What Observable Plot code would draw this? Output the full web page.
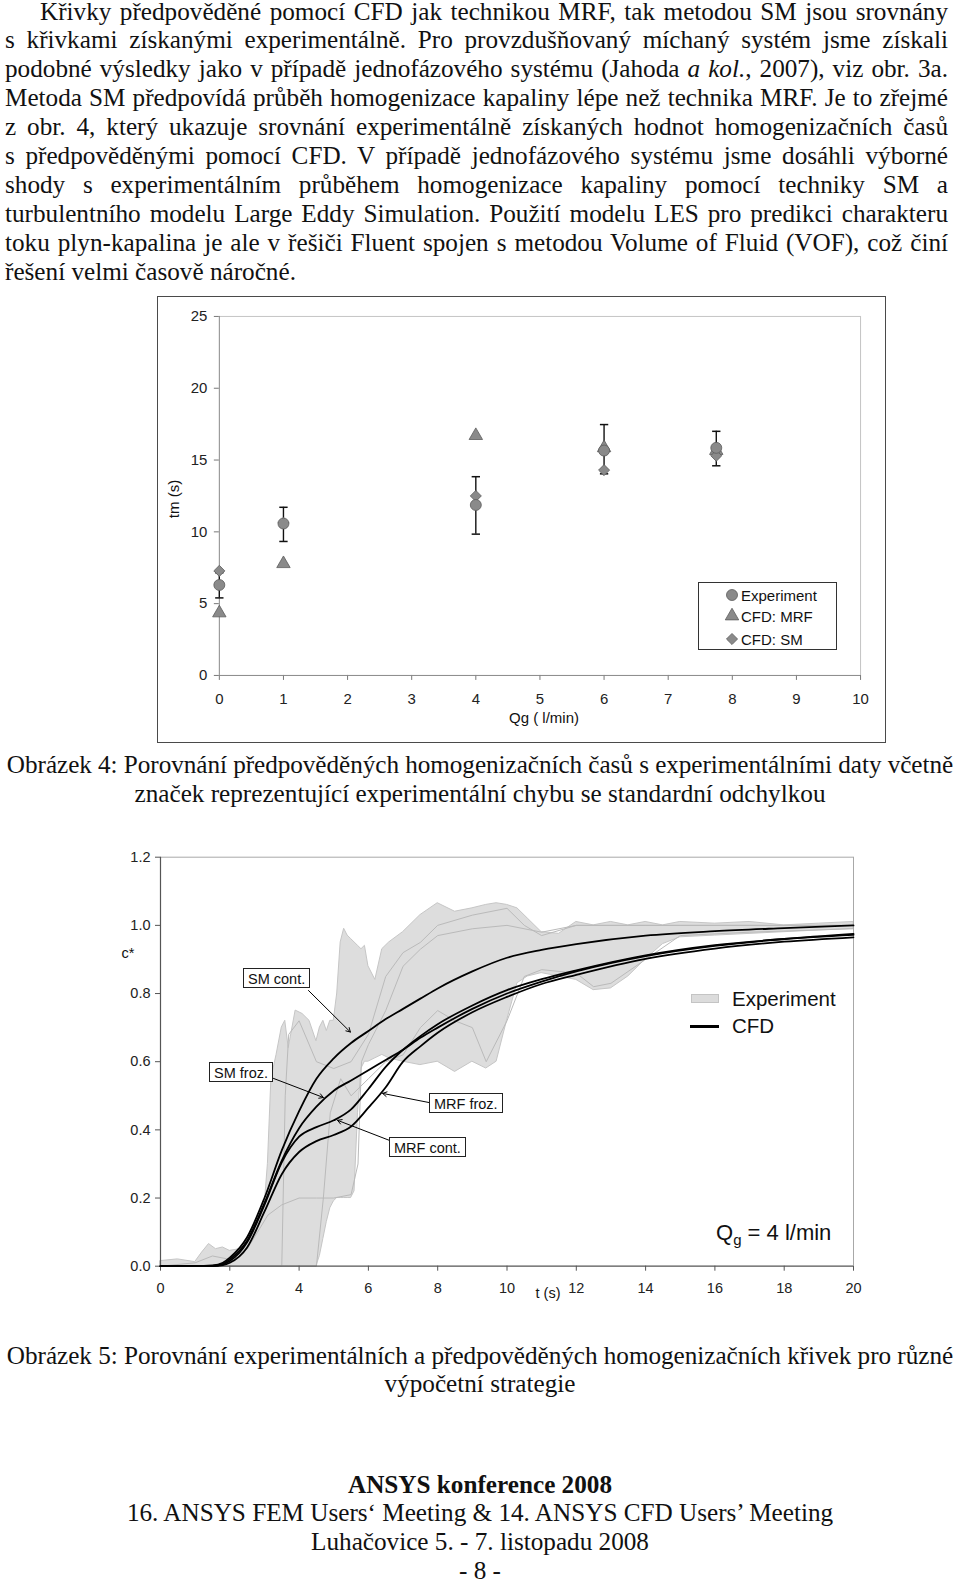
<!DOCTYPE html>
<html><head><meta charset="utf-8">
<script src="https://cdn.jsdelivr.net/npm/d3@7"></script>
<script src="https://cdn.jsdelivr.net/npm/@observablehq/plot@0.6"></script>
<style>
html,body{margin:0;padding:0;background:#fff}
body{width:960px;height:1581px;position:relative;overflow:hidden;font-family:"Liberation Serif","Times New Roman",serif;color:#111}
.para{position:absolute;left:5px;width:943px;top:-2.5px;font-size:25.2px;line-height:28.9px}
.para .ln{text-align:justify;text-align-last:justify;white-space:normal}
.para .ln.last{text-align-last:left}
.cap{position:absolute;left:0;width:960px;text-align:center;font-size:25.2px}
.sans{font-family:"Liberation Sans",Arial,sans-serif}
.box{position:absolute;font-family:"Liberation Sans",Arial,sans-serif;font-size:14.5px;border:1px solid #222;background:#fff;height:20px;line-height:20px;padding:0 4px;box-sizing:border-box;white-space:nowrap}
</style>
</head><body>
<div class="para" id="para">
<div class="ln" style="text-indent:35px">Křivky předpověděné pomocí CFD jak technikou MRF, tak metodou SM jsou srovnány</div>
<div class="ln">s křivkami získanými experimentálně. Pro provzdušňovaný míchaný systém jsme získali</div>
<div class="ln">podobné výsledky jako v případě jednofázového systému (Jahoda <i>a kol.</i>, 2007), viz obr. 3a.</div>
<div class="ln">Metoda SM předpovídá průběh homogenizace kapaliny lépe než technika MRF. Je to zřejmé</div>
<div class="ln">z obr. 4, který ukazuje srovnání experimentálně získaných hodnot homogenizačních časů</div>
<div class="ln">s předpověděnými pomocí CFD. V případě jednofázového systému jsme dosáhli výborné</div>
<div class="ln">shody s experimentálním průběhem homogenizace kapaliny pomocí techniky SM a</div>
<div class="ln">turbulentního modelu Large Eddy Simulation. Použití modelu LES pro predikci charakteru</div>
<div class="ln">toku plyn-kapalina je ale v řešiči Fluent spojen s metodou Volume of Fluid (VOF), což činí</div>
<div class="ln last">řešení velmi časově náročné.</div>
</div>

<div class="cap fit" style="top:749.5px;line-height:29.3px"><div>Obrázek 4: Porovnání předpověděných homogenizačních časů s experimentálními daty včetně</div><div>značek reprezentující experimentální chybu se standardní odchylkou</div></div>
<div class="cap fit" style="top:1342.3px;line-height:28px"><div>Obrázek 5: Porovnání experimentálních a předpověděných homogenizačních křivek pro různé</div><div>výpočetní strategie</div></div>
<div class="cap" style="top:1470.6px;line-height:28.7px"><b>ANSYS konference 2008</b><br>16. ANSYS FEM Users‘ Meeting &amp; 14. ANSYS CFD Users’ Meeting<br>Luhačovice 5. - 7. listopadu 2008<br>- 8 -</div>

<script>
// ---------- Figure 4 data ----------
const qg      = [0, 1, 4, 6, 7.75];
const tmExp   = [6.3, 10.58, 11.87, 15.66, 15.85];
const tmErrLo = [5.4, 9.33, 9.84, 14.04, 14.6];
const tmErrHi = [7.15, 11.71, 13.84, 17.47, 17.0];
const tmMRF   = [4.35, 7.78, 16.7, 15.85, 15.66];
const tmSM    = [7.28, 10.62, 12.5, 14.3, 15.3];
const qTicks  = [0,1,2,3,4,5,6,7,8,9,10];
const tmTicks = [0,5,10,15,20,25];
const legend1 = ["Experiment", "CFD: MRF", "CFD: SM"];

// ---------- Figure 5 data ----------
const cfdT    = [0,1,1.5,1.8,2,2.5,3,3.5,4,4.5,5,5.5,6,6.5,7,7.5,8,9,10,11,12,14,16,18,20];
const smCont  = [0,0,0.002,0.01,0.025,0.085,0.2,0.34,0.455,0.55,0.61,0.655,0.69,0.725,0.755,0.785,0.815,0.865,0.905,0.928,0.945,0.97,0.983,0.992,1.0];
const smFroz  = [0,0,0.001,0.007,0.02,0.075,0.185,0.31,0.405,0.468,0.515,0.545,0.575,0.605,0.635,0.67,0.70,0.755,0.80,0.835,0.865,0.91,0.94,0.96,0.975];
const mrfCont = [0,0,0.001,0.005,0.015,0.07,0.18,0.305,0.38,0.408,0.428,0.46,0.52,0.585,0.635,0.675,0.71,0.765,0.81,0.842,0.868,0.912,0.942,0.96,0.972];
const mrfFroz = [0,0,0,0.003,0.01,0.055,0.16,0.27,0.335,0.367,0.385,0.41,0.465,0.525,0.60,0.645,0.685,0.745,0.79,0.828,0.855,0.902,0.932,0.952,0.965];

const expT  = [0,0.5,1,1.2,1.4,1.6,1.8,2,2.3,2.6,3,3.1,3.2,3.35,3.5,3.6,3.7,3.9,4.1,4.3,4.5,4.6,4.7,4.8,4.9,5.0,5.1,5.2,5.3,5.4,5.5,5.6,5.7,5.8,5.9,6.0,6.2,6.4,6.6,7,7.5,8,8.5,9,9.4,9.7,10,10.3,10.6,11,11.5,12,12.5,13,13.5,14,14.5,15,16,17,18,19,20];
const expHi = [0.015,0.02,0.012,0.04,0.065,0.05,0.055,0.045,0.05,0.1,0.17,0.3,0.55,0.62,0.7,0.72,0.64,0.75,0.74,0.72,0.66,0.7,0.72,0.69,0.72,0.72,0.8,0.95,0.99,0.97,0.96,0.95,0.94,0.93,0.94,0.88,0.84,0.93,0.95,0.98,1.03,1.065,1.04,1.05,1.06,1.065,1.06,1.05,1.02,0.98,0.975,1.01,1.0,1.01,1.0,1.01,1.0,1.01,1.005,1.01,1.0,1.005,1.01];
const expLo = [0,0,0,0,0,0,0,0,0,0,0,0,0,0,0,0,0,0,0,0,0,0.03,0.08,0.13,0.17,0.19,0.2,0.2,0.2,0.2,0.2,0.22,0.45,0.58,0.6,0.6,0.61,0.62,0.61,0.6,0.59,0.6,0.57,0.6,0.58,0.6,0.72,0.83,0.85,0.86,0.85,0.84,0.81,0.815,0.85,0.9,0.945,0.965,0.97,0.975,0.98,0.985,0.99];

const runAT = [0,1,1.5,2,2.5,2.8,3.1,3.5,4,4.5,5,5.5,5.7,5.8,6,6.5,7,7.5,8,9,10,11,12,14,17,20];
const runAC = [0,0.01,0.03,0.02,0.05,0.1,0.15,0.18,0.2,0.2,0.2,0.21,0.3,0.6,0.65,0.75,0.88,0.93,0.97,0.99,1.0,0.98,1.0,1.0,1.0,1.0];
const runBT = [0,3.5,3.6,3.7,4,4.5,5,5.5,6,6.5,7,7.5,8,9,10,10.5,11,12,15,20];
const runBC = [0,0,0.5,0.68,0.72,0.6,0.58,0.6,0.68,0.85,0.92,0.95,1.0,1.03,1.05,1.0,0.97,1.0,1.0,1.0];
const runCT = [0,4.5,4.7,4.9,5.2,5.5,6,6.5,7,7.5,8,8.5,9,9.4,10,10.5,11,12,12.5,13,14,15,17,20];
const runCC = [0,0,0.2,0.45,0.55,0.5,0.55,0.6,0.62,0.7,0.75,0.72,0.7,0.6,0.72,0.85,0.87,0.86,0.82,0.83,0.9,0.97,0.98,0.99];

const tTicks = [0,2,4,6,8,10,12,14,16,18,20];
const cTicks = [0,0.2,0.4,0.6,0.8,1.0,1.2];

// annotation labels: arrow start (t0,c0) and tip (t1,c1)
const annLabels = ["SM cont.", "SM froz.", "MRF froz.", "MRF cont."];
const annT0 = [4.27, 3.26, 7.76, 6.61];
const annC0 = [0.809, 0.551, 0.480, 0.369];
const annT1 = [5.48, 4.70, 6.41, 5.11];
const annC1 = [0.687, 0.495, 0.507, 0.428];

// ---------- fit text lines (avoid unwanted wrapping) ----------
function fitLines(nodes, avail, font) {
  const probe = document.createElement("span");
  probe.style.cssText = "position:absolute;visibility:hidden;white-space:nowrap;font:" + font;
  document.body.appendChild(probe);
  nodes.forEach((ln) => {
    probe.innerHTML = ln.innerHTML;
    const a = avail - (ln.style.textIndent ? parseFloat(ln.style.textIndent) : 0) - 2;
    const w = probe.getBoundingClientRect().width;
    if (w > a) {
      const n = ln.textContent.length;
      ln.style.letterSpacing = (-(w - a) / n - 0.02) + "px";
    }
  });
  probe.remove();
}
fitLines(document.querySelectorAll("#para .ln"), 943, "25.2px 'Liberation Serif','Times New Roman',serif");
fitLines(document.querySelectorAll(".cap.fit > div"), 950, "25.2px 'Liberation Serif','Times New Roman',serif");

function put(el, left, top) {
  el.style.position = "absolute";
  el.style.left = left + "px";
  el.style.top = top + "px";
  document.body.appendChild(el);
  return el;
}
function label(text, cx, cy, size, rotate) {
  const d = document.createElement("div");
  d.className = "sans";
  d.textContent = text;
  d.style.cssText = `position:absolute;left:${cx}px;top:${cy}px;font-size:${size}px;line-height:1;white-space:nowrap;color:#111;transform:translate(-50%,-50%)${rotate ? " rotate(-90deg)" : ""}`;
  document.body.appendChild(d);
}

// ---------- Figure 4 ----------
const rows1 = qg.map((q, i) => ({q, exp: tmExp[i], lo: tmErrLo[i], hi: tmErrHi[i], mrf: tmMRF[i], sm: tmSM[i]}));
const sty4 = {fontFamily: "'Liberation Sans', Arial, sans-serif", fontSize: "15px", color: "#222", background: "transparent", overflow: "visible"};
const sty5 = {fontFamily: "'Liberation Sans', Arial, sans-serif", fontSize: "14.5px", color: "#222", background: "transparent", overflow: "visible"};
const mfill = "#8a8a8a", mstroke = "#5c5c5c";

const fig4 = Plot.plot({
  width: 729, height: 447,
  marginLeft: 63, marginRight: 23, marginTop: 21, marginBottom: 66,
  x: {domain: [0, 10]},
  y: {domain: [0, 25]},
  style: sty4,
  marks: [
    Plot.ruleY([25], {stroke: "#c4c4c4"}),
    Plot.ruleX([10], {stroke: "#c4c4c4"}),
    Plot.axisX({ticks: qTicks, tickSize: 5, tickPadding: 13, stroke: "#777", label: null}),
    Plot.axisY({ticks: tmTicks, tickSize: 5, tickPadding: 7, stroke: "#777", label: null}),
    Plot.ruleY([0], {stroke: "#888"}),
    Plot.ruleX([0], {stroke: "#888"}),
    Plot.ruleX(rows1, {x: "q", y1: "lo", y2: "hi", stroke: "#111", strokeWidth: 1.4}),
    Plot.link(rows1, {x1: d => d.q - 0.065, x2: d => d.q + 0.065, y1: "lo", y2: "lo", stroke: "#111", strokeWidth: 1.5}),
    Plot.link(rows1, {x1: d => d.q - 0.065, x2: d => d.q + 0.065, y1: "hi", y2: "hi", stroke: "#111", strokeWidth: 1.5}),
    Plot.dot(rows1, {x: "q", y: "mrf", symbol: "triangle", r: 5, fill: mfill, stroke: mstroke, strokeWidth: 0.8}),
    Plot.dot(rows1, {x: "q", y: "sm", symbol: "diamond2", r: 5, fill: mfill, stroke: mstroke, strokeWidth: 0.8}),
    Plot.dot(rows1, {x: "q", y: "exp", symbol: "circle", r: 5.5, fill: mfill, stroke: mstroke, strokeWidth: 0.8})
  ]
});
const wrap4 = document.createElement("div");
wrap4.style.cssText = "width:729px;height:447px;box-sizing:border-box;border:1.6px solid #4a4a4a";
put(wrap4, 157, 296);
fig4.style.position = "absolute"; fig4.style.left = "-1.6px"; fig4.style.top = "-1.6px";
wrap4.appendChild(fig4);
label("Qg ( l/min)", 544, 717, 15);
label("tm (s)", 172.5, 499, 15, true);

// legend fig 4
const leg = document.createElement("div");
leg.style.cssText = "width:139px;height:68px;box-sizing:border-box;border:1.2px solid #333;background:#fff";
put(leg, 698, 582);
const legSym = [d3.symbolCircle, d3.symbolTriangle, d3.symbolDiamond2];
const legR = [5.5, 5, 5];
const legY = [12, 33, 56];
legend1.forEach((name, i) => {
  const s = document.createElementNS("http://www.w3.org/2000/svg", "svg");
  s.setAttribute("width", 20); s.setAttribute("height", 20);
  s.style.cssText = `position:absolute;left:${32.7 - 10}px;top:${legY[i] - 10}px`;
  const p = document.createElementNS("http://www.w3.org/2000/svg", "path");
  p.setAttribute("d", d3.symbol(legSym[i], Math.PI * legR[i] * legR[i])());
  p.setAttribute("transform", "translate(10,10)");
  p.setAttribute("fill", mfill); p.setAttribute("stroke", mstroke); p.setAttribute("stroke-width", 0.8);
  s.appendChild(p); leg.appendChild(s);
  const t = document.createElement("div");
  t.className = "sans"; t.textContent = name;
  t.style.cssText = `position:absolute;left:42px;top:${legY[i] - 8.5}px;font-size:15px;line-height:17px;white-space:nowrap;color:#111`;
  leg.appendChild(t);
});

// ---------- Figure 5 ----------
const cfdRows = [];
[["SM cont.", smCont], ["SM froz.", smFroz], ["MRF cont.", mrfCont], ["MRF froz.", mrfFroz]].forEach(([name, arr]) => {
  cfdT.forEach((t, i) => cfdRows.push({name, t, c: arr[i]}));
});
const expRows = expT.map((t, i) => ({t, lo: expLo[i], hi: expHi[i]}));
const runRows = [];
[[runAT, runAC, "A"], [runBT, runBC, "B"], [runCT, runCC, "C"]].forEach(([ts, cs, name]) => ts.forEach((t, i) => runRows.push({name, t, c: cs[i]})));
const annRows = annLabels.map((l, i) => ({l, t0: annT0[i], c0: annC0[i], t1: annT1[i], c1: annC1[i]}));

const fig5 = Plot.plot({
  width: 800, height: 470,
  marginLeft: 60, marginRight: 47, marginTop: 20.7, marginBottom: 40.3,
  x: {domain: [0, 20]},
  y: {domain: [0, 1.2]},
  style: sty5,
  marks: [
    Plot.areaY(expRows, {x: "t", y1: "lo", y2: "hi", fill: "#dddddd", stroke: "#c6c6c6", strokeWidth: 1}),
    Plot.lineY(runRows, {x: "t", y: "c", z: "name", stroke: "#bababa", strokeWidth: 1}),
    Plot.ruleY([1.2], {stroke: "#a8a8a8"}),
    Plot.ruleX([20], {stroke: "#a8a8a8"}),
    Plot.axisX({ticks: tTicks, tickSize: 5, tickPadding: 12, stroke: "#555", label: null}),
    Plot.axisY({ticks: cTicks, tickSize: 5, tickPadding: 5, stroke: "#555", label: null, tickFormat: d3.format(".1f")}),
    Plot.ruleY([0], {stroke: "#555", strokeWidth: 1.2}),
    Plot.ruleX([0], {stroke: "#555", strokeWidth: 1.2}),
    Plot.lineY(cfdRows, {x: "t", y: "c", z: "name", stroke: "#000", strokeWidth: 1.8, curve: "monotone-x"}),
    Plot.arrow(annRows, {x1: "t0", y1: "c0", x2: "t1", y2: "c1", stroke: "#000", strokeWidth: 1, headLength: 7})
  ]
});
put(fig5, 100, 836);
label("c*", 128, 953, 14.5);
label("t (s)", 548, 1293, 14.5);

// annotation boxes
const boxPos = [[243, 968], [209, 1062], [429, 1093], [389, 1137]];
annLabels.forEach((l, i) => {
  const b = document.createElement("div");
  b.className = "box"; b.textContent = l;
  b.style.left = boxPos[i][0] + "px"; b.style.top = boxPos[i][1] + "px";
  document.body.appendChild(b);
});

// legend fig 5
const sw = document.createElement("div");
sw.style.cssText = "width:28px;height:9px;background:#dcdcdc;border:1px solid #c4c4c4;box-sizing:border-box";
put(sw, 690.7, 994);
const cl = document.createElement("div");
cl.style.cssText = "width:29px;height:3px;background:#000";
put(cl, 690, 1024.5);
const e1 = document.createElement("div");
e1.className = "sans"; e1.textContent = "Experiment";
e1.style.cssText = "font-size:20.5px;line-height:20px;white-space:nowrap;color:#111";
put(e1, 732, 989);
const e2 = document.createElement("div");
e2.className = "sans"; e2.textContent = "CFD";
e2.style.cssText = "font-size:20.5px;line-height:20px;white-space:nowrap;color:#111";
put(e2, 732, 1016);
const qq = document.createElement("div");
qq.className = "sans";
qq.innerHTML = "Q<sub style='font-size:15px;vertical-align:-5px;line-height:0'>g</sub> = 4 l/min";
qq.style.cssText = "font-size:22px;line-height:22px;white-space:nowrap;color:#111";
put(qq, 716, 1222);
</script>
</body></html>
